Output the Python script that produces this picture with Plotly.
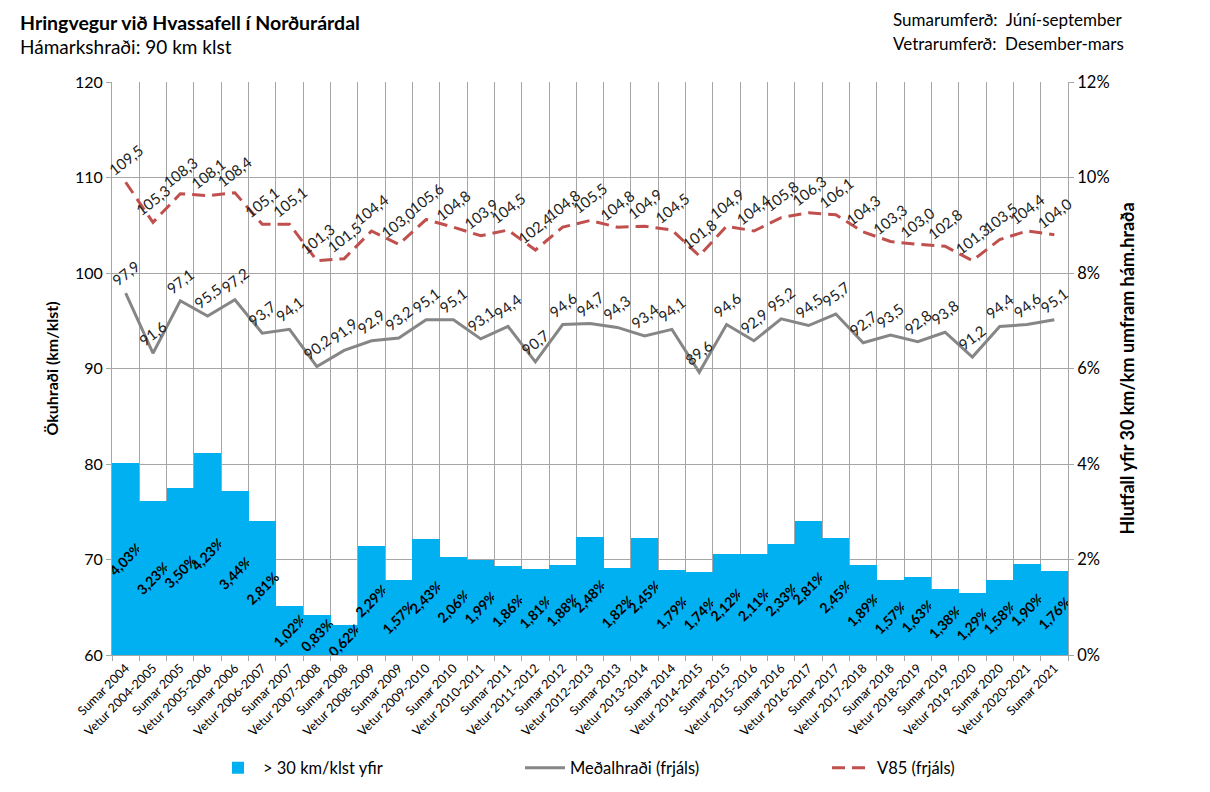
import plotly.graph_objects as go

categories = [
    "Sumar 2004", "Vetur 2004-2005", "Sumar 2005", "Vetur 2005-2006", "Sumar 2006",
    "Vetur 2006-2007", "Sumar 2007", "Vetur 2007-2008", "Sumar 2008", "Vetur 2008-2009",
    "Sumar 2009", "Vetur 2009-2010", "Sumar 2010", "Vetur 2010-2011", "Sumar 2011",
    "Vetur 2011-2012", "Sumar 2012", "Vetur 2012-2013", "Sumar 2013", "Vetur 2013-2014",
    "Sumar 2014", "Vetur 2014-2015", "Sumar 2015", "Vetur 2015-2016", "Sumar 2016",
    "Vetur 2016-2017", "Sumar 2017", "Vetur 2017-2018", "Sumar 2018", "Vetur 2018-2019",
    "Sumar 2019", "Vetur 2019-2020", "Sumar 2020", "Vetur 2020-2021", "Sumar 2021",
]

over30_pct = [
    4.03, 3.23, 3.50, 4.23, 3.44, 2.81, 1.02, 0.83, 0.62, 2.29,
    1.57, 2.43, 2.06, 1.99, 1.86, 1.81, 1.88, 2.48, 1.82, 2.45,
    1.79, 1.74, 2.12, 2.11, 2.33, 2.81, 2.45, 1.89, 1.57, 1.63,
    1.38, 1.29, 1.58, 1.90, 1.76,
]

mean_speed = [
    97.9, 91.6, 97.1, 95.5, 97.2, 93.7, 94.1, 90.2, 91.9, 92.9,
    93.2, 95.1, 95.1, 93.1, 94.4, 90.7, 94.6, 94.7, 94.3, 93.4,
    94.1, 89.6, 94.6, 92.9, 95.2, 94.5, 95.7, 92.7, 93.5, 92.8,
    93.8, 91.2, 94.4, 94.6, 95.1,
]

v85_speed = [
    109.5, 105.3, 108.3, 108.1, 108.4, 105.1, 105.1, 101.3, 101.5, 104.4,
    103.0, 105.6, 104.8, 103.9, 104.5, 102.4, 104.8, 105.5, 104.8, 104.9,
    104.5, 101.8, 104.9, 104.4, 105.8, 106.3, 106.1, 104.3, 103.3, 103.0,
    102.8, 101.3, 103.5, 104.4, 104.0,
]

left_ticks = [60, 70, 80, 90, 100, 110, 120]
right_ticks = [0, 0.02, 0.04, 0.06, 0.08, 0.10, 0.12]

FONT = "Lato"
W, H = 1210, 792
ML, MR, MT, MB = 104, 150, 74, 145
PW, PH = W - ML - MR, H - MT - MB


def px(fx):
    return (fx - ML) / PW


def py(fy):
    return 1 + (MT - fy) / PH


fig = go.Figure()

fig.add_trace(go.Bar(
    x=categories,
    y=[v / 100 for v in over30_pct],
    yaxis="y2",
    name="> 30 km/klst yfir",
    marker=dict(color="#00B0F0", line=dict(width=0)),
    texttemplate="%{y:.2%}",
    textposition="inside",
    insidetextanchor="middle",
    textangle=-45,
    constraintext="none",
    insidetextfont=dict(family=FONT, size=14, color="black", weight="bold"),
    hoverinfo="skip",
))

fig.add_trace(go.Scatter(
    x=categories, y=mean_speed, mode="lines",
    name="Meðalhraði (frjáls)",
    line=dict(color="#868686", width=3),
))

fig.add_trace(go.Scatter(
    x=categories, y=v85_speed, mode="lines",
    name="V85 (frjáls)",
    line=dict(color="#C0504D", width=3, dash="13px,7px"),
))

annotations = []
for c, v in zip(categories, mean_speed):
    annotations.append(dict(
        x=c, y=v, xref="x", yref="y", text=f"{v:.1f}".replace(".", ","),
        showarrow=False, textangle=-38, yshift=20,
        font=dict(family=FONT, size=15, color="#222222"),
    ))
for c, v in zip(categories, v85_speed):
    annotations.append(dict(
        x=c, y=v, xref="x", yref="y", text=f"{v:.1f}".replace(".", ","),
        showarrow=False, textangle=-38, yshift=22,
        font=dict(family=FONT, size=15, color="#222222"),
    ))

annotations += [
    dict(xref="paper", yref="paper", x=px(10), y=py(14),
         xanchor="left", yanchor="middle", showarrow=False,
         text="<b>Hringvegur við Hvassafell í Norðurárdal</b>",
         font=dict(family=FONT, size=19.5, color="black")),
    dict(xref="paper", yref="paper", x=px(10), y=py(39),
         xanchor="left", yanchor="middle", showarrow=False,
         text="Hámarkshraði: 90 km klst",
         font=dict(family=FONT, size=19, color="black")),
    dict(xref="paper", yref="paper", x=px(883), y=py(12),
         xanchor="left", yanchor="middle", showarrow=False,
         text="Sumarumferð:  Júní-september",
         font=dict(family=FONT, size=17, color="black")),
    dict(xref="paper", yref="paper", x=px(883), y=py(36),
         xanchor="left", yanchor="middle", showarrow=False,
         text="Vetrarumferð:  Desember-mars",
         font=dict(family=FONT, size=17, color="black")),
]

fig.update_layout(
    width=W, height=H,
    margin=dict(l=ML, r=MR, t=MT, b=MB, autoexpand=False),
    paper_bgcolor="white", plot_bgcolor="white",
    separators=",.",
    bargap=0,
    font=dict(family=FONT, size=14, color="#222222"),
    showlegend=True,
    legend=dict(
        orientation="h", x=px(205), xanchor="left", y=py(760), yanchor="middle",
        font=dict(family=FONT, size=16.5, color="black"),
        entrywidth=252, traceorder="normal", itemwidth=40,
    ),
    xaxis=dict(
        type="category", tickson="boundaries",
        showgrid=True, gridcolor="#A6A6A6", gridwidth=1,
        ticks="outside", ticklen=5, tickcolor="#A6A6A6",
        showline=True, linecolor="#A6A6A6",
        tickangle=-45, tickfont=dict(family=FONT, size=12.5, color="black"),
        range=[-0.5, len(categories) - 0.5],
    ),
    yaxis=dict(
        range=[60, 120], tickvals=left_ticks,
        showgrid=True, gridcolor="#A6A6A6", gridwidth=1,
        ticks="outside", ticklen=5, tickcolor="#A6A6A6",
        showline=True, linecolor="#A6A6A6", zeroline=False,
        tickfont=dict(family=FONT, size=16, color="black"),
        title=dict(text="<b>Ökuhraði (km/klst)</b>", standoff=12,
                   font=dict(family=FONT, size=16, color="black")),
    ),
    yaxis2=dict(
        overlaying="y", side="right", range=[0, 0.12], tickvals=right_ticks,
        tickformat=".0%", showgrid=False, zeroline=False,
        ticks="outside", ticklen=5, tickcolor="#A6A6A6",
        showline=True, linecolor="#A6A6A6",
        tickfont=dict(family=FONT, size=16.5, color="black"),
        title=dict(text="<b>Hlutfall yfir 30 km/km umfram hám.hraða</b>", standoff=12,
                   font=dict(family=FONT, size=18, color="black")),
    ),
    annotations=annotations,
)

fig.write_html("out.html")
